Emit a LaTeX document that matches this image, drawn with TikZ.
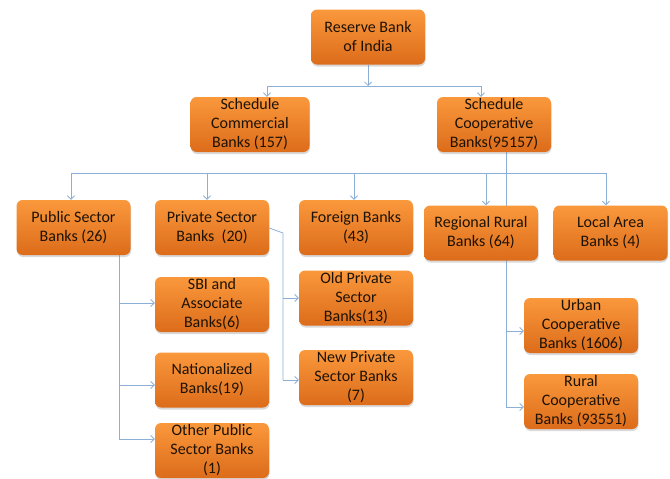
\documentclass[tikz,border=0pt]{standalone}
\usepackage{fontspec}
\setmainfont{Carlito}
\usetikzlibrary{arrows.meta,positioning,shadows,backgrounds}
\definecolor{boxtop}{RGB}{250,152,60}
\definecolor{boxbot}{RGB}{220,108,26}
\definecolor{linkcolor}{RGB}{140,175,215}
\definecolor{txtcolor}{RGB}{30,18,5}

\begin{document}
\begin{tikzpicture}[x=1pt,y=-1pt,
    bank/.style={rounded corners=6pt, top color=boxtop, bottom color=boxbot,
      minimum width=114pt, minimum height=55pt, inner sep=0pt, align=center,
      text=txtcolor, font=\fontsize{16}{19}\selectfont,
      drop shadow={shadow xshift=0.5pt, shadow yshift=-2pt, opacity=0.3}},
    wire/.style={draw=linkcolor, line width=0.8pt},
    link/.style={wire, -{Straight Barb[length=3.5pt,width=7pt]}}]
    \useasboundingbox (0,0) rectangle (670,479);
    % top of the tree
    \node[bank] (rbi) at (368,37) {Reserve Bank\\of India};
    \node[bank, minimum width=119pt] (schcom) at (250,124.5) {Schedule\\Commercial\\Banks (157)};
    \node[bank] (schcoop) at (494,124.5) {Schedule\\Cooperative\\Banks(95157)};
    % second row
    \node[bank] (pub) at (73.5,227.5) {Public Sector\\Banks (26)};
    \node[bank] (priv) at (212,227.5) {Private Sector\\Banks\ \ (20)};
    \node[bank] (forgn) at (356,227.5) {Foreign Banks\\(43)};
    \node[bank] (rrb) at (481,233) {Regional Rural\\Banks (64)};
    \node[bank] (lab) at (610.5,233) {Local Area\\Banks (4)};
    % public sector split
    \node[bank] (sbi) at (212,304.5) {SBI and\\Associate\\Banks(6)};
    \node[bank] (nat) at (212,380) {Nationalized\\Banks(19)};
    \node[bank] (opsb) at (212,450.5) {Other Public\\Sector Banks\\(1)};
    % private sector split
    \node[bank] (opb) at (356,298) {Old Private\\Sector\\Banks(13)};
    \node[bank] (npb) at (356,377.5) {New Private\\Sector Banks\\(7)};
    % cooperative split
    \node[bank] (ucb) at (581,325.5) {Urban\\Cooperative\\Banks (1606)};
    \node[bank] (rcb) at (581,401.5) {Rural\\Cooperative\\Banks (93551)};

    \begin{scope}[on background layer]
      % rbi to the two scheduled groups
      \coordinate (j0) at (368,86);
      \coordinate (j0l) at (267,86);
      \coordinate (j0r) at (481,86);
      \draw[link] (rbi.south) -- (j0);
      \draw[wire] (j0l) -- (j0r);
      \draw[link] (j0l) -- (j0l |- schcom.north);
      \draw[link] (j0r) -- (j0r |- schcoop.north);
      % bar over the second row
      \draw[wire] (71,173) -- (606,173);
      \foreach \x/\n in {71/pub, 207/priv, 354/forgn, 486/rrb, 606/lab}
        \draw[link] (\x,173) -- (\x,173 |- \n.north);
      % cooperative banks
      \draw[wire] (506,0 |- schcoop.south) -- (506,407);
      \draw[link] (506,331) -- (ucb.west |- 0,331);
      \draw[link] (506,407) -- (rcb.west |- 0,407);
      % public sector banks
      \draw[wire] (119,0 |- pub.south) -- (119,439);
      \draw[link] (119,303) -- (sbi.west |- 0,303);
      \draw[link] (119,385) -- (nat.west |- 0,385);
      \draw[link] (119,439) -- (opsb.west |- 0,439);
      % private sector banks
      \draw[wire] (priv.east |- 0,228) -- (283,233) -- (283,380);
      \draw[link] (283,298) -- (opb.west |- 0,298);
      \draw[link] (283,380) -- (npb.west |- 0,380);
    \end{scope}
  \end{tikzpicture}
\end{document}
